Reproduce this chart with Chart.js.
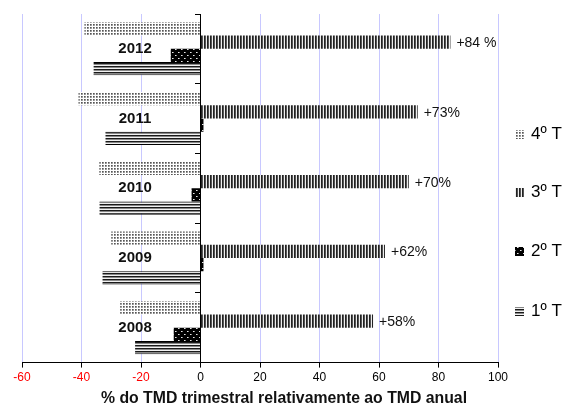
<!DOCTYPE html>
<html>
<head>
<meta charset="utf-8">
<script src="https://cdn.jsdelivr.net/npm/chart.js@4/dist/chart.umd.min.js"></script>
<style>
  html, body { margin: 0; padding: 0; background: #fff; }
</style>
</head>
<body>
<canvas id="chart" width="568" height="408"></canvas>
<script>
// values, top group first
const years = ['2012', '2011', '2010', '2009', '2008'];
const q4 = [-39, -41, -34, -30, -27];
const q3 = [84, 73, 70, 62, 58];
const q2 = [-10, 1, -3, 1, -9];
const q1 = [-36, -32, -34, -33, -22];
const q3Labels = ['+84 %', '+73%', '+70%', '+62%', '+58%'];
const seriesNames = ['4º T', '3º T', '2º T', '1º T'];
const xTicks = [-60, -40, -20, 0, 20, 40, 60, 80, 100];
const xTitle = '% do TMD trimestral relativamente ao TMD anual';

const FONT = '"Liberation Sans", Arial, sans-serif';

// small tiles used as bar fills
function makePattern(w, h, draw) {
    const c = document.createElement('canvas');
    c.width = w;
    c.height = h;
    draw(c.getContext('2d'));
    return c.getContext('2d').createPattern(c, 'repeat');
}

const dotsLight = makePattern(3, 3, g => {
    g.fillStyle = '#ffffff';
    g.fillRect(0, 0, 3, 3);
    g.fillStyle = '#555';
    g.fillRect(0, 0, 1, 1);
    g.fillStyle = '#888';
    g.fillRect(1, 0, 1, 1);
    g.fillRect(0, 1, 1, 1);
    g.fillStyle = '#aaa';
    g.fillRect(1, 1, 1, 1);
});
const vStripes = makePattern(3, 1, g => {
    g.fillStyle = '#222';
    g.fillRect(0, 0, 1, 1);
    g.fillStyle = '#555';
    g.fillRect(1, 0, 1, 1);
    g.fillStyle = '#eee';
    g.fillRect(2, 0, 1, 1);
});
const darkDots = makePattern(6, 6, g => {
    g.fillStyle = '#000';
    g.fillRect(0, 0, 6, 6);
    g.fillStyle = '#e6e6e6';
    g.fillRect(1, 1, 1, 1);
    g.fillRect(4, 4, 1, 1);
    g.fillStyle = '#888';
    g.fillRect(2, 1, 1, 1);
    g.fillRect(5, 4, 1, 1);
});
const hStripes = makePattern(1, 3, g => {
    g.fillStyle = '#1a1a1a';
    g.fillRect(0, 0, 1, 1);
    g.fillStyle = '#888';
    g.fillRect(0, 1, 1, 1);
    g.fillStyle = '#f2f2f2';
    g.fillRect(0, 2, 1, 1);
});
const fills = [dotsLight, vStripes, darkDots, hStripes];

const annotate = {
    id: 'annotate',
    afterDatasetsDraw(chart) {
        const { ctx, scales: { x, y } } = chart;
        ctx.save();

        // year names inside each group
        ctx.font = 'bold 15px ' + FONT;
        ctx.fillStyle = '#111';
        ctx.textAlign = 'center';
        ctx.textBaseline = 'middle';
        years.forEach((yr, i) => {
            ctx.fillText(yr, x.getPixelForValue(-22), y.getPixelForValue(i));
        });

        // values at the end of the 3º T bars
        ctx.font = '14px ' + FONT;
        ctx.textAlign = 'left';
        chart.getDatasetMeta(1).data.forEach((bar, i) => {
            ctx.fillText(q3Labels[i], bar.x + 6, bar.y + 1);
        });

        // legend on the right
        const legendY = [134, 192, 251, 311];
        ctx.font = '17px ' + FONT;
        seriesNames.forEach((name, i) => {
            ctx.fillStyle = fills[i];
            ctx.fillRect(515, legendY[i] - 4, 9, 9);
            ctx.fillStyle = '#000';
            ctx.fillText(name, 531, legendY[i]);
        });

        // axis title, centred on the whole picture
        ctx.font = 'bold 15.8px ' + FONT;
        ctx.fillStyle = '#111';
        ctx.textAlign = 'center';
        ctx.fillText(xTitle, chart.width / 2, 399);
        ctx.restore();
    }
};

const ctx = document.getElementById('chart').getContext('2d');

new Chart(ctx, {
    type: 'bar',
    data: {
        labels: years,
        datasets: [q4, q3, q2, q1].map((d, i) => ({
            label: seriesNames[i],
            data: d,
            backgroundColor: fills[i],
            borderColor: '#000',
            borderWidth: i === 3 ? { top: 1, bottom: 1, left: 0, right: 0 } : 0,
            borderSkipped: false,
            categoryPercentage: 0.76,
            barPercentage: 1.0
        }))
    },
    options: {
        indexAxis: 'y',
        responsive: false,
        animation: false,
        devicePixelRatio: 1,
        layout: { padding: { top: 14, left: 22, right: 70, bottom: 20 } },
        plugins: {
            legend: { display: false },
            tooltip: { enabled: false }
        },
        scales: {
            x: {
                min: xTicks[0],
                max: xTicks[xTicks.length - 1],
                ticks: {
                    stepSize: 20,
                    padding: 3,
                    color: c => c.tick.value < 0 ? '#ff0000' : '#000',
                    font: { family: FONT, size: 12 }
                },
                grid: {
                    color: c => c.tick && c.tick.value === 0 ? '#000' : '#c8c8ff',
                    tickColor: '#000',
                    tickLength: 5
                },
                border: { color: '#000', width: 1 }
            },
            y: {
                position: { x: 0 },
                ticks: { display: false },
                grid: {
                    drawOnChartArea: false,
                    offset: true,
                    color: '#000',
                    tickLength: 5
                },
                border: { color: '#000', width: 1 }
            }
        }
    },
    plugins: [annotate]
});
</script>
</body>
</html>
